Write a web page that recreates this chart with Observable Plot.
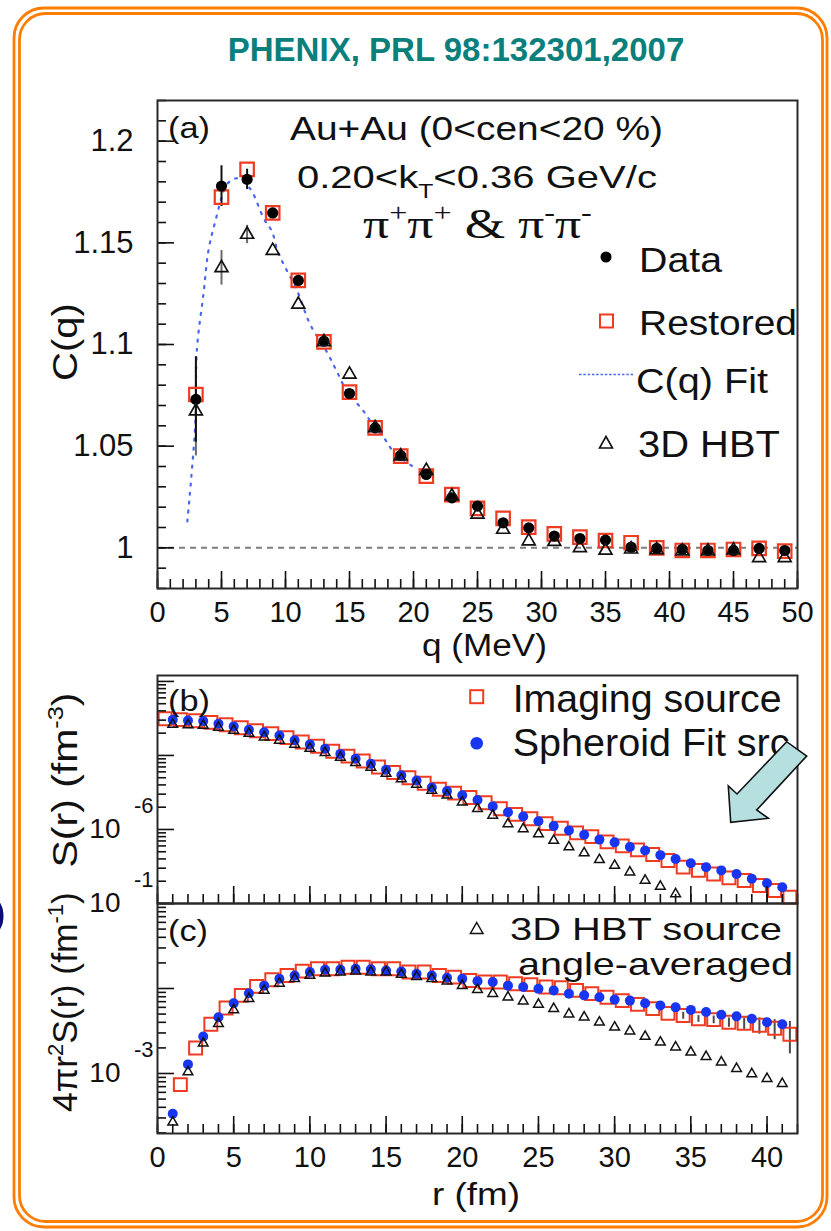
<!DOCTYPE html>
<html>
<head>
<meta charset="utf-8">
<script src="https://cdn.jsdelivr.net/npm/d3@7"></script>
<script src="https://cdn.jsdelivr.net/npm/@observablehq/plot@0.6"></script>
<style>
  html, body { margin: 0; padding: 0; background: #fff; }
  #page { position: relative; width: 831px; height: 1231px; overflow: hidden; background: #fff; }
  #page svg { position: absolute; left: 0; }
</style>
</head>
<body>
<div id="page"></div>
<script>
// ---------- panel (a): two-pion correlation function C(q) ----------
const qBins      = [3, 5, 7, 9, 11, 13, 15, 17, 19, 21, 23, 25, 27, 29, 31, 33, 35, 37, 39, 41, 43, 45, 47, 49];
const cData      = [1.073, 1.1779, 1.1812, 1.1647, 1.1315, 1.1016, 1.0759, 1.059, 1.0454, 1.0361, 1.0246, 1.0205,
                    1.0123, 1.0098, 1.0058, 1.0046, 1.0038, 1.0003, 0.9997, 0.9992, 0.9987, 0.9987, 0.9997, 0.9987];
const cDataErr   = [0.021, 0.010, 0.005, 0, 0, 0, 0, 0, 0, 0, 0, 0, 0, 0, 0, 0, 0, 0, 0, 0, 0, 0, 0, 0];
const cRestored  = [1.0754, 1.1725, 1.1861, 1.1647, 1.1315, 1.1013, 1.0766, 1.059, 1.0451, 1.0353, 1.0262, 1.0194,
                    1.0145, 1.0102, 1.0069, 1.0053, 1.0036, 1.0025, 1.0, 0.9987, 0.9987, 0.9992, 0.9997, 0.9984];
const cHbt3d     = [1.0672, 1.1377, 1.1541, 1.1462, 1.1197, 1.1013, 1.0853, 1.059, 1.0451, 1.038, 1.0254, 1.0164,
                    1.009, 1.0033, 1.003, 1.0, 0.9987, 0.9993, 0.999, 0.9984, 0.9984, 0.9989, 0.9951, 0.9951];
const cHbt3dErr  = [0.022, 0.0085, 0.0045, 0, 0, 0, 0, 0, 0, 0, 0, 0, 0, 0, 0, 0, 0, 0, 0, 0, 0, 0, 0, 0];
const fitQ       = [2.33, 2.95, 3.08, 3.6, 3.98, 4.5, 5.42, 6.0, 6.46, 6.93, 7.37, 8.34, 8.94, 9.4, 10.0, 10.9,
                    11.5, 12.0, 13.2, 14.0, 14.8, 16.1, 16.9, 17.7, 18.4, 20.1];
const fitC       = [1.013, 1.0607, 1.0976, 1.1254, 1.1462, 1.1602, 1.1787, 1.1815, 1.1815, 1.1787, 1.1754, 1.1615,
                    1.1557, 1.1456, 1.1377, 1.1266, 1.1164, 1.109, 1.0967, 1.0869, 1.077, 1.0672, 1.0598, 1.054,
                    1.0476, 1.0393];
const qTicks      = [0, 5, 10, 15, 20, 25, 30, 35, 40, 45, 50];
const cTicks      = [1, 1.05, 1.1, 1.15, 1.2];
const cTickLabels = ["1", "1.05", "1.1", "1.15", "1.2"];

// ---------- panel (b): source function S(r) ----------
const rInt  = [1, 2, 3, 4, 5, 6, 7, 8, 9, 10, 11, 12, 13, 14, 15, 16, 17, 18, 19, 20, 21,
               22, 23, 24, 25, 26, 27, 28, 29, 30, 31, 32, 33, 34, 35, 36, 37, 38, 39, 40, 41];
const rHalf = [0.5, 1.5, 2.5, 3.5, 4.5, 5.5, 6.5, 7.5, 8.5, 9.5, 10.5, 11.5, 12.5, 13.5, 14.5, 15.5, 16.5,
               17.5, 18.5, 19.5, 20.5, 21.5, 22.5, 23.5, 24.5, 25.5, 26.5, 27.5, 28.5, 29.5, 30.5, 31.5,
               32.5, 33.5, 34.5, 35.5, 36.5, 37.5, 38.5, 39.5, 40.5, 41.5];
const sImaging  = [3.13e-5, 3.05e-5, 2.95e-5, 2.8e-5, 2.6e-5, 2.36e-5, 2.15e-5, 1.97e-5, 1.74e-5, 1.52e-5,
                   1.33e-5, 1.14e-5, 9.8e-6, 8.4e-6, 7.0e-6, 5.9e-6, 5.0e-6, 4.2e-6, 3.5e-6, 3.1e-6,
                   2.7e-6, 2.3e-6, 1.9e-6, 1.6e-6, 1.4e-6, 1.2e-6, 1.04e-6, 9.0e-7, 8.0e-7, 6.8e-7,
                   6.0e-7, 5.3e-7, 4.6e-7, 3.8e-7, 3.1e-7, 2.8e-7, 2.5e-7, 2.22e-7, 2.05e-7, 1.75e-7, 1.5e-7, 1.22e-7];
const sSpheroid = [3.03e-5, 2.97e-5, 2.91e-5, 2.68e-5, 2.47e-5, 2.22e-5, 2.06e-5, 1.86e-5, 1.6e-5, 1.41e-5,
                   1.23e-5, 1.05e-5, 9.0e-6, 7.7e-6, 6.4e-6, 5.4e-6, 4.6e-6, 3.7e-6, 3.3e-6, 2.9e-6,
                   2.5e-6, 2.05e-6, 1.71e-6, 1.5e-6, 1.29e-6, 1.11e-6, 9.7e-7, 8.5e-7, 7.3e-7, 6.7e-7,
                   5.8e-7, 5.2e-7, 4.5e-7, 4.0e-7, 3.5e-7, 3.1e-7, 2.8e-7, 2.5e-7, 2.16e-7, 1.88e-7, 1.66e-7];
const rHbtB  = [1, 2, 3, 4, 5, 6, 7, 8, 9, 10, 11, 12, 13, 14, 15, 16, 17, 18, 19, 20, 21,
                22, 23, 24, 25, 26, 27, 28, 29, 30, 31, 32, 33, 34];
const sHbt3d = [2.62e-5, 2.58e-5, 2.54e-5, 2.39e-5, 2.18e-5, 1.98e-5, 1.77e-5, 1.6e-5, 1.41e-5, 1.24e-5,
                1.09e-5, 9.4e-6, 8.0e-6, 6.9e-6, 5.7e-6, 4.8e-6, 4.06e-6, 3.37e-6, 2.9e-6, 2.34e-6,
                1.91e-6, 1.55e-6, 1.19e-6, 1.02e-6, 8.7e-7, 7.1e-7, 5.8e-7, 4.8e-7, 3.9e-7, 3.26e-7,
                2.65e-7, 2.05e-7, 1.7e-7, 1.35e-7];
const sDecades     = [1e-7, 1e-6, 1e-5, 1e-4];
const sLabelValues = [1e-6];
const sLabelExps   = ["-6"];

// ---------- panel (c): radial density 4*pi*r^2*S(r) ----------
const rHalfC = [1.5, 2.5, 3.5, 4.5, 5.5, 6.5, 7.5, 8.5, 9.5, 10.5, 11.5, 12.5, 13.5, 14.5, 15.5, 16.5, 17.5,
                18.5, 19.5, 20.5, 21.5, 22.5, 23.5, 24.5, 25.5, 26.5, 27.5, 28.5, 29.5, 30.5, 31.5, 32.5,
                33.5, 34.5, 35.5, 36.5, 37.5, 38.5, 39.5, 40.5, 41.5];
const dImaging    = [7.4e-4, 2.0e-3, 3.8e-3, 5.9e-3, 8.3e-3, 1.06e-2, 1.27e-2, 1.42e-2, 1.6e-2, 1.71e-2,
                     1.71e-2, 1.78e-2, 1.78e-2, 1.71e-2, 1.71e-2, 1.56e-2, 1.56e-2, 1.42e-2, 1.36e-2, 1.24e-2,
                     1.19e-2, 1.19e-2, 1.14e-2, 1.11e-2, 1.04e-2, 1.02e-2, 9.5e-3, 8.7e-3, 7.9e-3, 7.2e-3,
                     6.5e-3, 5.8e-3, 5.1e-3, 4.8e-3, 4.4e-3, 4.3e-3, 4.0e-3, 3.9e-3, 3.7e-3, 3.4e-3, 2.9e-3];
const dImagingErr = [0, 0, 0, 0, 0, 0, 0, 0, 0, 0, 0, 0, 0, 0, 0, 0, 0, 0, 0, 0, 0, 0, 0, 0, 0, 0, 0, 0, 0, 0,
                     0, 0, 0, 4.5e-4, 4.0e-4, 4.5e-4, 5.0e-4, 6.0e-4, 8.0e-4, 9.0e-4, 1.2e-3];
const dSpheroid   = [3.36e-4, 1.28e-3, 2.72e-3, 4.59e-3, 6.71e-3, 8.81e-3, 1.08e-2, 1.3e-2, 1.42e-2, 1.56e-2,
                     1.66e-2, 1.67e-2, 1.71e-2, 1.68e-2, 1.63e-2, 1.58e-2, 1.49e-2, 1.42e-2, 1.34e-2, 1.3e-2,
                     1.22e-2, 1.19e-2, 1.08e-2, 1.04e-2, 9.9e-3, 9.5e-3, 8.7e-3, 8.3e-3, 7.9e-3, 7.4e-3,
                     7.2e-3, 6.7e-3, 6.3e-3, 6.0e-3, 5.6e-3, 5.3e-3, 4.9e-3, 4.7e-3, 4.4e-3, 4.0e-3, 3.8e-3];
const dHbt3d      = [2.67e-4, 1.04e-3, 2.27e-3, 3.85e-3, 5.6e-3, 7.6e-3, 9.5e-3, 1.15e-2, 1.3e-2, 1.42e-2,
                     1.51e-2, 1.56e-2, 1.6e-2, 1.56e-2, 1.56e-2, 1.46e-2, 1.38e-2, 1.3e-2, 1.22e-2, 1.08e-2,
                     9.7e-3, 8.7e-3, 7.9e-3, 7.1e-3, 6.5e-3, 5.8e-3, 5.0e-3, 4.6e-3, 4.0e-3, 3.5e-3,
                     3.15e-3, 2.72e-3, 2.33e-3, 2.04e-3, 1.78e-3, 1.58e-3, 1.36e-3, 1.14e-3, 9.9e-4, 8.7e-4, 7.6e-4];
const dDecades     = [1e-4, 1e-3, 1e-2, 1e-1];
const dLabelValues = [1e-1, 1e-3];
const dLabelExps   = ["-1", "-3"];
const rTicks = [0, 5, 10, 15, 20, 25, 30, 35, 40];

// ---------- shared styling ----------
const W = 831, H = 1231;
const FONT = "'Liberation Sans', Arial, Helvetica, sans-serif";
const SERIF = "'Liberation Serif', 'Times New Roman', serif";
const RED = "#ee3b22", BLUE = "#1836f2", FITBLUE = "#4a68ee", INK = "#111";
const FRAME_L = 157, FRAME_R = 797;
const page = document.getElementById("page");

function mount(svg, top) {
  svg.style.position = "absolute";
  svg.style.left = "0px";
  svg.style.top = top + "px";
  page.appendChild(svg);
}

// inward ROOT-style tick marks: short lines hugging the left and bottom frame edges
function innerTicks(xMajor, xMinor, yMajor, yMinor, frameW, frameH) {
  const s = {stroke: INK, strokeWidth: 1.6};
  return [
    Plot.tickX(xMinor, {x: d => d, insetTop: frameH - 9, ...s}),
    Plot.tickX(xMajor, {x: d => d, insetTop: frameH - 17, ...s}),
    Plot.tickY(yMinor, {y: d => d, insetRight: frameW - 9, ...s}),
    Plot.tickY(yMajor, {y: d => d, insetRight: frameW - 17, ...s})
  ];
}

function logTicks(decades, lo, hi) {
  const major = decades.filter(v => v >= lo * 0.999 && v <= hi * 1.001);
  const minor = [];
  for (const d of decades) for (let k = 2; k <= 9; k++) {
    const v = k * d;
    if (v >= lo && v <= hi) minor.push(v);
  }
  return {major, minor};
}

const baseStyle = {fontFamily: FONT, fontSize: "29px", background: "none", color: INK, overflow: "visible"};

// ---------- panel (a) ----------
{
  const rows = qBins.map((q, i) => ({q, data: cData[i], dErr: cDataErr[i], rest: cRestored[i], hbt: cHbt3d[i], hErr: cHbt3dErr[i]}));
  const fit = fitQ.map((q, i) => ({q, c: fitC[i]}));
  const top = 100, bottom = 588, height = 680;
  const qMinor = d3.range(0, 51);
  const cMinor = d3.range(98, 123).map(k => k / 100);
  const svg = Plot.plot({
    width: W, height,
    marginTop: top, marginBottom: height - bottom, marginLeft: FRAME_L, marginRight: W - FRAME_R,
    x: {domain: [0, 50]},
    y: {domain: [0.98, 1.22]},
    style: baseStyle,
    marks: [
      Plot.ruleY([1], {stroke: "#7d7d7d", strokeWidth: 2, strokeDasharray: "6,5"}),
      Plot.line(fit, {x: "q", y: "c", stroke: FITBLUE, strokeWidth: 2.2, strokeDasharray: "2,7", curve: "catmull-rom"}),
      Plot.ruleX(rows.filter(d => d.hErr > 0), {x: "q", y1: d => d.hbt - d.hErr, y2: d => d.hbt + d.hErr, stroke: "#6a6a6a", strokeWidth: 2}),
      Plot.ruleX(rows.filter(d => d.dErr > 0), {x: "q", y1: d => d.data - d.dErr, y2: d => d.data + d.dErr, stroke: INK, strokeWidth: 2}),
      Plot.dot(rows, {x: "q", y: "rest", symbol: "square", r: 7.6, stroke: RED, strokeWidth: 2.2, fill: "none"}),
      Plot.dot(rows, {x: "q", y: "data", r: 5.6, fill: "#000", stroke: "none"}),
      Plot.dot(rows, {x: "q", y: "hbt", symbol: "triangle", r: 4.8, stroke: INK, strokeWidth: 1.7, fill: "none"}),
      ...innerTicks(qTicks, qMinor, cTicks, cMinor, FRAME_R - FRAME_L, bottom - top),
      Plot.axisX({ticks: qTicks, tickSize: 0, tickPadding: 13, fontSize: 29, label: null}),
      Plot.axisY({ticks: cTicks, tickFormat: d => cTickLabels[cTicks.indexOf(d)], tickSize: 0, tickPadding: 24, fontSize: 31, label: null}),
      Plot.frame({stroke: "#2a2a2a", strokeWidth: 2})
    ]
  });
  mount(svg, 0);
}

// ---------- panels (b) and (c): log-scale source profiles ----------
function sourcePanel({svgTop, height, top, bottom, yDomain, decades, labelValues, labelExps, series, errors, xLabels}) {
  const {major, minor} = logTicks(decades, yDomain[0], yDomain[1]);
  const rMinor = d3.range(0, 43);
  const marks = [];
  if (errors) marks.push(Plot.ruleX(errors, {x: "r", y1: d => d.v - d.e, y2: d => d.v + d.e, stroke: "#4a4a4a", strokeWidth: 2}));
  marks.push(
    Plot.dot(series.imaging, {x: "r", y: "v", symbol: "square", r: 7.3, stroke: RED, strokeWidth: 2, fill: "none"}),
    Plot.dot(series.spheroid, {x: "r", y: "v", r: 5, fill: BLUE, stroke: "none"}),
    Plot.dot(series.hbt, {x: "r", y: "v", symbol: "triangle", r: 3.6, stroke: INK, strokeWidth: 1.5, fill: "none"}),
    ...innerTicks(rTicks, rMinor, major, minor, FRAME_R - FRAME_L, bottom - top),
    Plot.text(labelValues, {y: d => d, text: () => "10", frameAnchor: "left", dx: -37, textAnchor: "end", fontSize: 28}),
    Plot.text(labelValues, {y: d => d, text: (d, i) => labelExps[i], frameAnchor: "left", dx: -4, dy: -24, textAnchor: "end", fontSize: 22}),
    Plot.frame({stroke: "#2a2a2a", strokeWidth: 2})
  );
  if (xLabels) marks.push(Plot.axisX({ticks: rTicks, tickSize: 0, tickPadding: 13, fontSize: 29, label: null}));
  const svg = Plot.plot({
    width: W, height,
    marginTop: top - svgTop, marginBottom: svgTop + height - bottom, marginLeft: FRAME_L, marginRight: W - FRAME_R,
    x: {domain: [0, 42], axis: xLabels ? undefined : null},
    y: {type: "log", domain: yDomain, axis: null},
    style: baseStyle,
    marks
  });
  mount(svg, svgTop);
}

const pts = (xs, vs) => xs.map((r, i) => ({r, v: vs[i]}));

sourcePanel({
  svgTop: 640, height: 290, top: 675, bottom: 903,
  yDomain: [1e-7, Math.pow(10, -3.92)],
  decades: sDecades, labelValues: sLabelValues, labelExps: sLabelExps,
  series: {imaging: pts(rHalf, sImaging), spheroid: pts(rInt, sSpheroid), hbt: pts(rHbtB, sHbt3d)},
  xLabels: false
});

sourcePanel({
  svgTop: 860, height: 371, top: 903, bottom: 1133,
  yDomain: [Math.pow(10, -3.706), 1e-1],
  decades: dDecades, labelValues: dLabelValues, labelExps: dLabelExps,
  series: {imaging: pts(rHalfC, dImaging), spheroid: pts(rInt, dSpheroid), hbt: pts(rInt, dHbt3d)},
  errors: rHalfC.map((r, i) => ({r, v: dImaging[i], e: dImagingErr[i]})).filter(d => d.e > 0),
  xLabels: true
});

// ---------- titles, legends, annotations and slide decoration ----------
const ov = d3.create("svg").attr("width", W).attr("height", H).attr("viewBox", `0 0 ${W} ${H}`);
mount(ov.node(), 0);

// text with optional super/subscripts, stretched horizontally to a given extent
function label(parts, {x, y, size, width = null, anchor = "start", family = FONT, weight = "normal", fill = INK, rotate = 0}) {
  const t = ov.append("text").attr("font-family", family).attr("font-size", size)
    .attr("font-weight", weight).attr("fill", fill).attr("text-anchor", anchor);
  let shift = 0;
  for (const p of parts) {
    const [s, k] = typeof p === "string" ? [p, 0] : p;
    const target = k === 1 ? -0.4 * size : k === -1 ? 0.3 * size : 0;
    t.append("tspan").attr("dy", (target - shift).toFixed(2)).attr("font-size", k ? (0.62 * size).toFixed(1) : size).text(s);
    shift = target;
  }
  let sx = 1;
  if (width) {
    const L = t.node().getComputedTextLength();
    if (L > 0) sx = width / L;
  }
  t.attr("transform", `translate(${x},${y})` + (rotate ? ` rotate(${rotate})` : "") + ` scale(${sx.toFixed(3)},1)`);
  return t;
}

// slide border: double orange rounded frame
ov.append("rect").attr("x", 14).attr("y", 8).attr("width", 813).attr("height", 1219).attr("rx", 30)
  .attr("fill", "none").attr("stroke", "#ff7d00").attr("stroke-width", 2.8);
ov.append("rect").attr("x", 19.5).attr("y", 13.5).attr("width", 803).attr("height", 1208).attr("rx", 26)
  .attr("fill", "none").attr("stroke", "#ff7d00").attr("stroke-width", 2.8);
// edge of a neighbouring slide element
ov.append("ellipse").attr("cx", -6).attr("cy", 916).attr("rx", 9.5).attr("ry", 17).attr("fill", "#0c0c78");

// heading
label(["PHENIX, PRL 98:132301,2007"], {x: 456, y: 61, size: 34, width: 457, anchor: "middle", weight: "bold", fill: "#0b7f7c"});

// panel (a) annotations
label(["(a)"], {x: 168, y: 138, size: 30, width: 42});
label(["Au+Au (0<cen<20 %)"], {x: 290, y: 140, size: 33, width: 373});
label(["0.20<k", ["T", -1], "<0.36 GeV/c"], {x: 297, y: 188, size: 32, width: 360});
label(["\u03c0", ["+", 1], "\u03c0", ["+", 1], " & \u03c0", ["-", 1], "\u03c0", ["-", 1]], {x: 363, y: 238, size: 42, width: 229, family: SERIF});

// panel (a) legend
ov.append("circle").attr("cx", 606).attr("cy", 257).attr("r", 5.5).attr("fill", "#000");
ov.append("rect").attr("x", 600).attr("y", 314.5).attr("width", 13).attr("height", 13)
  .attr("fill", "none").attr("stroke", RED).attr("stroke-width", 2);
ov.append("line").attr("x1", 579).attr("x2", 633).attr("y1", 374.5).attr("y2", 374.5)
  .attr("stroke", FITBLUE).attr("stroke-width", 1.6).attr("stroke-dasharray", "2.5,1.8");
ov.append("path").attr("d", "M606,436.5 L612.5,448 L599.5,448 Z").attr("fill", "none").attr("stroke", INK).attr("stroke-width", 1.6);
label(["Data"], {x: 639, y: 271.5, size: 35, width: 83});
label(["Restored"], {x: 639, y: 335, size: 36, width: 158});
label(["C(q) Fit"], {x: 636, y: 393, size: 36, width: 132});
label(["3D HBT"], {x: 638, y: 456.5, size: 36, width: 142});

// panel (b) annotations and legend
label(["(b)"], {x: 168, y: 711, size: 30, width: 42});
ov.append("rect").attr("x", 470.2).attr("y", 690.2).attr("width", 13).attr("height", 13)
  .attr("fill", "none").attr("stroke", RED).attr("stroke-width", 2);
ov.append("circle").attr("cx", 476.7).attr("cy", 743.3).attr("r", 6.3).attr("fill", BLUE);
label(["Imaging source"], {x: 512.7, y: 711.7, size: 38, width: 269});
label(["Spheroid Fit src"], {x: 512.7, y: 756, size: 38, width: 277});

// panel (c) annotations and legend
label(["(c)"], {x: 168, y: 941, size: 30, width: 40});
ov.append("path").attr("d", "M476.7,922.5 L483,933.5 L470.4,933.5 Z").attr("fill", "none").attr("stroke", INK).attr("stroke-width", 1.5);
label(["3D HBT source"], {x: 510, y: 940, size: 32, width: 272});
label(["angle-averaged"], {x: 518, y: 975, size: 32, width: 275});

// axis titles
label(["q (MeV)"], {x: 422, y: 656, size: 31, width: 125});
label(["r (fm)"], {x: 432, y: 1205, size: 32, width: 88});
label(["C(q)"], {x: 77, y: 342, size: 35, width: 78, anchor: "middle", rotate: -90});
label(["S(r) (fm", ["-3", 1], ")"], {x: 77, y: 780, size: 36, width: 175, anchor: "middle", rotate: -90});
label(["4", ["\u03c0"], "r", ["2", 1], "S(r) (fm", ["-1", 1], ")"], {x: 77, y: 1002, size: 36, width: 220, anchor: "middle", rotate: -90});

// callout arrow pointing at the tail of the source
ov.append("polygon")
  .attr("points", "730.7,822.3 728.3,786 737,794 786.7,741.7 806.7,756 756.7,810 768.3,818.3")
  .attr("fill", "#b6e0e0").attr("stroke", INK).attr("stroke-width", 1.6).attr("stroke-linejoin", "miter");
</script>
</body>
</html>
